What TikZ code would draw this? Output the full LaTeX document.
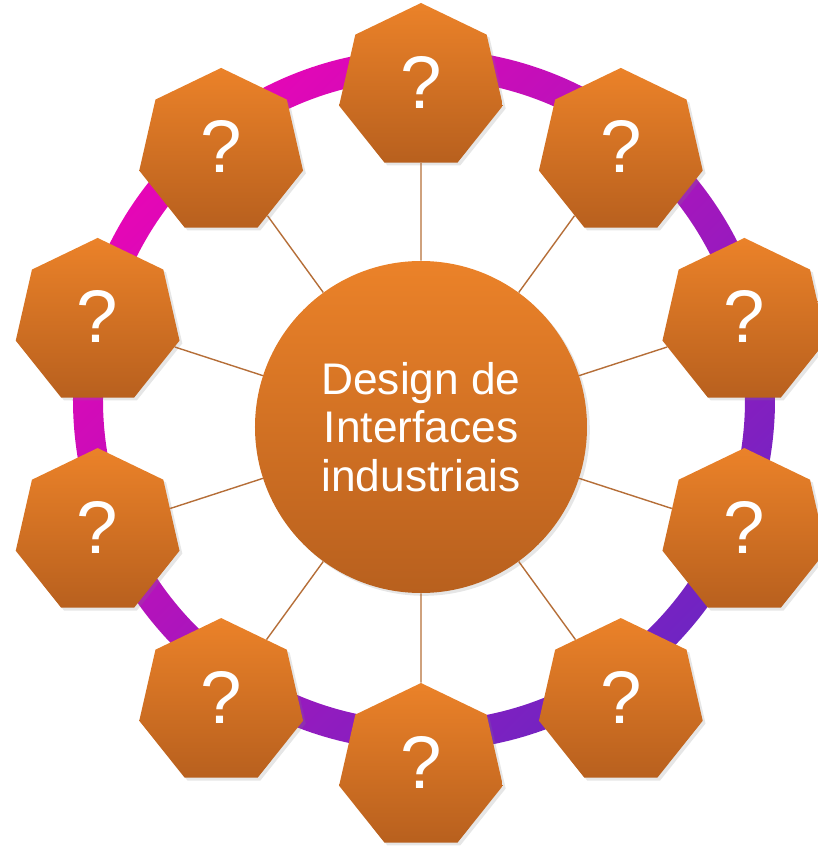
\documentclass[tikz,border=0pt]{standalone}
\usepackage{fontspec}
\setmainfont{Liberation Sans}
\usepackage{tikz}
\usetikzlibrary{shapes.geometric,shadows,positioning}
\definecolor{orangeTop}{HTML}{EB8229}
\definecolor{orangeBot}{HTML}{B8601E}
\definecolor{ringA}{HTML}{E606B6}
\definecolor{ringB}{HTML}{7024C2}
\definecolor{spokeC}{HTML}{B56E38}
\tikzset{
	hub/.style = {
			circle,
			top color       = orangeTop,
			bottom color    = orangeBot,
			minimum size    = 8.3cm,
			inner sep       = 0pt,
			text            = white,
			align           = center,
			font            = \fontsize{31.5}{34.4}\selectfont,
			drop shadow     = {opacity=0.2, shadow xshift=2pt, shadow yshift=-2pt},
		},
	petal/.style = {
			regular polygon,
			regular polygon sides = 7,
			top color       = orangeTop,
			bottom color    = orangeBot,
			minimum size    = 4.2cm,
			inner sep       = 0pt,
			text            = white,
			text depth      = 0.25cm,
			font            = \fontsize{53}{60}\selectfont,
			drop shadow     = {opacity=0.2, shadow xshift=2pt, shadow yshift=-2pt},
		},
	spoke/.style = {draw=spokeC, line width=1pt},
}

\begin{document}
\begin{tikzpicture}
	\useasboundingbox (-10.525,-10.675) rectangle (9.9,10.675);
	% ring behind the petals
	\shade[even odd rule, top color=ringA, bottom color=ringB, shading angle=45]
	(0.075,0.675) circle[radius=8.775] (0.075,0.675) circle[radius=8.025];
	\node[hub] (core) at (0,0) {Design de\\Interfaces\\industriais};
	\foreach \i in {0,...,9}
	\node[petal] (p\i) at ({90+36*\i}:8.5) {?};
	\foreach \i in {0,...,9}
	\draw[spoke] (core) -- (p\i);
\end{tikzpicture}
\end{document}
